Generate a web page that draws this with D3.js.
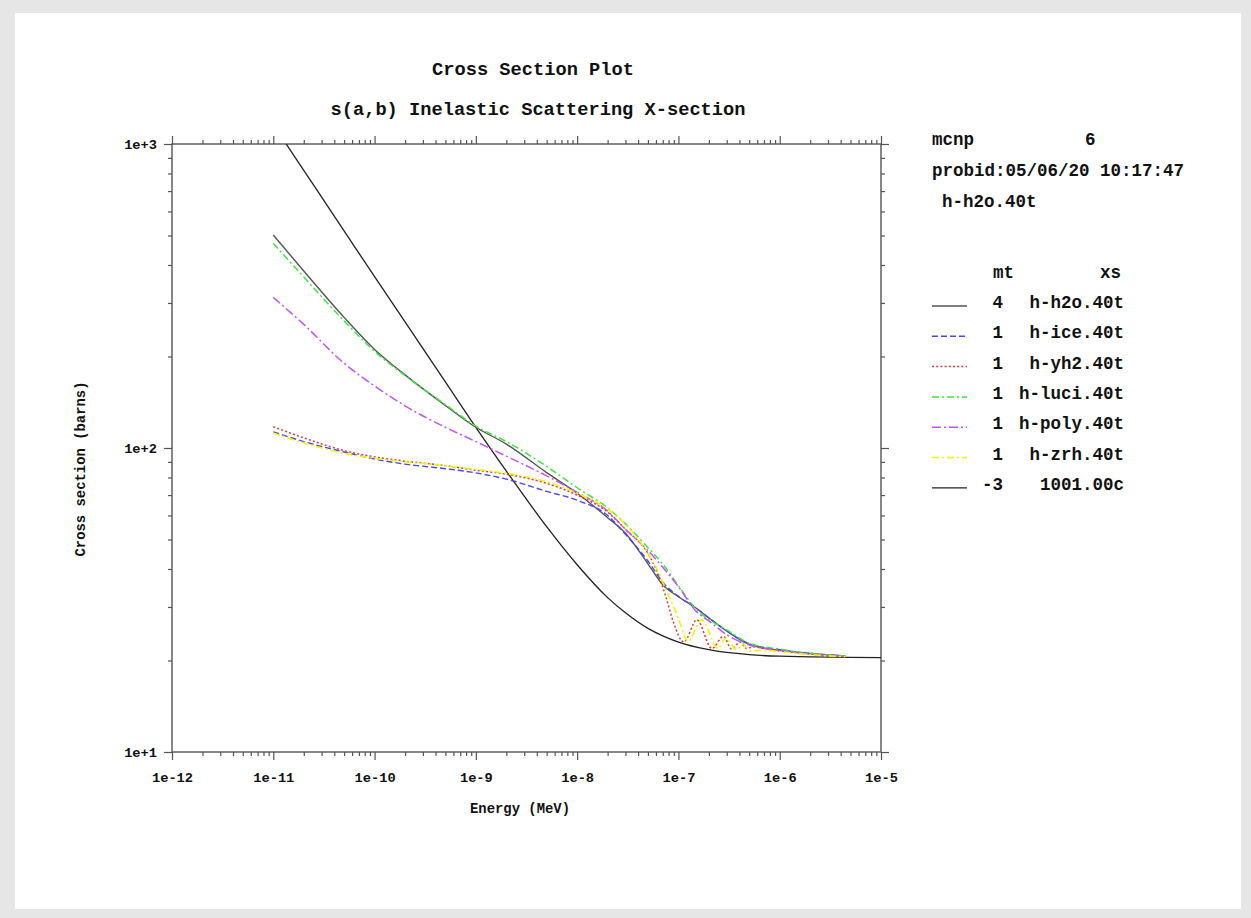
<!DOCTYPE html>
<html>
<head>
<meta charset="utf-8">
<script src="https://cdn.jsdelivr.net/npm/d3@7"></script>
<style>
  html, body { margin: 0; padding: 0; background: #e6e6e6; }
  svg { display: block; }
  text { font-family: "Liberation Mono", "DejaVu Sans Mono", monospace; font-weight: bold; fill: #111; }
</style>
</head>
<body>
<svg id="chart" width="1251" height="918"></svg>
<script>
// ---------------- data ----------------
const xTickLabels = ["1e-12","1e-11","1e-10","1e-9","1e-8","1e-7","1e-6","1e-5"];
const yTickLabels = ["1e+1","1e+2","1e+3"];

const legendMt = ["4","1","1","1","1","1","-3"];
const legendXs = ["h-h2o.40t","h-ice.40t","h-yh2.40t","h-luci.40t","h-poly.40t","h-zrh.40t","1001.00c"];

// common energy grid (MeV) for the smooth S(a,b) curves
const eGrid = [1e-11,2e-11,5e-11,1e-10,2e-10,5e-10,1e-9,2e-9,5e-9,1e-8,2e-8,3e-8,5e-8,7e-8,1e-7,1.5e-7,2e-7,3e-7,5e-7,1e-6,2e-6,4.46e-6];

const h2oValues  = [502,382,269,211,174,138,117,103,83,71,59,52.4,41.6,35.5,32.4,29.7,27.6,25.0,22.6,21.6,21.1,20.7];
const iceValues  = [113,105,97,92,88.5,85.5,82.8,79,72,67.3,60,52,42.5,36.2,32.5,29.7,27.6,25.0,22.7,21.7,21.1,20.7];
const luciValues = [471,365,262,208,173,139,118,105,87,74,63.5,56.3,47,41.5,35.2,29.5,27.3,25.2,22.8,21.8,21.1,20.7];
const polyValues = [313,255,190,160,137.6,117,105,94,81,71.5,62,54,46,40.5,35,29,27,24.3,22.5,21.6,21.0,20.6];

// yh2 and zrh have Bragg-like oscillations, so they carry their own energies
const yh2Energies = [1e-11,2e-11,5e-11,1e-10,2e-10,5e-10,1e-9,2e-9,5e-9,1e-8,2e-8,3e-8,5e-8,6e-8,7.6e-8,9e-8,1.13e-7,1.52e-7,2.14e-7,2.78e-7,3.35e-7,4.05e-7,4.7e-7,5.5e-7,7e-7,1e-6,2e-6,4.46e-6];
const yh2Values   = [117.5,108,98,93.5,90.5,87.5,84.5,82,76.5,70,61.5,54,45,40,32,26.5,23.0,27.2,21.9,24.0,21.8,23.0,21.9,22.2,21.9,21.5,21.0,20.6];

const zrhEnergies = [1e-11,2e-11,5e-11,1e-10,2e-10,5e-10,1e-9,2e-9,5e-9,1e-8,2e-8,3e-8,5e-8,6e-8,7.6e-8,9e-8,1e-7,1.25e-7,1.69e-7,2.47e-7,2.93e-7,3.76e-7,4.37e-7,5.08e-7,7e-7,1e-6,2e-6,4.46e-6];
const zrhValues   = [112,104,96,92.5,90,87.5,85,82.5,77.5,71,63,56,45,40.5,34,30,27.5,23.1,27.2,21.9,23.7,21.7,22.6,21.5,21.6,21.4,20.9,20.6];

// free-gas hydrogen (1001.00c) elastic
const h1Energies = [1e-11,2e-11,5e-11,1e-10,2e-10,5e-10,1e-9,2e-9,5e-9,1e-8,2e-8,3e-8,5e-8,7e-8,1e-7,2e-7,5e-7,1e-6,1e-5];
const h1Values   = [1158,819,518,366,260,165,117,84,55.1,41.3,32.2,28.7,25.5,24.1,23.0,21.7,20.9,20.66,20.43];

// ---------------- drawing ----------------
const svg = d3.select("#chart");

// page panel
svg.append("rect").attr("x",0).attr("y",0).attr("width",1251).attr("height",918).attr("fill","#e6e6e6");
svg.append("rect").attr("x",15).attr("y",13).attr("width",1226).attr("height",896).attr("fill","#ffffff");

const x = d3.scaleLog().domain([1e-12,1e-5]).range([172,881]);
const y = d3.scaleLog().domain([10,1000]).range([752,144]);

const axisColor = "#555";

// major & minor tick values
const xMajor = d3.range(-12,-4).map(p => Math.pow(10,p));
const xMinor = [];
for (let p=-12; p<-5; p++) for (let m=2; m<=9; m++) xMinor.push(m*Math.pow(10,p));
const yMajor = [10,100,1000];
const yMinor = [];
for (let p=1; p<3; p++) for (let m=2; m<=9; m++) yMinor.push(m*Math.pow(10,p));

function styleAxis(g){
  g.select(".domain").remove();
  g.selectAll(".tick line").attr("stroke",axisColor).attr("stroke-width",1.2);
}

// bottom
svg.append("g").attr("transform","translate(0,752)")
  .call(d3.axisBottom(x).tickValues(xMinor).tickSize(4).tickFormat(""))
  .call(styleAxis);
svg.append("g").attr("transform","translate(0,752)")
  .call(d3.axisBottom(x).tickValues(xMajor).tickSize(8).tickPadding(12)
        .tickFormat((d,i)=>xTickLabels[i]))
  .call(styleAxis)
  .call(g=>g.selectAll("text").attr("font-size","13.7px").attr("font-family","Liberation Mono, monospace")
        .attr("font-weight","bold").attr("fill","#111"));
// top
svg.append("g").attr("transform","translate(0,144)")
  .call(d3.axisTop(x).tickValues(xMinor).tickSize(4).tickFormat("")).call(styleAxis);
svg.append("g").attr("transform","translate(0,144)")
  .call(d3.axisTop(x).tickValues(xMajor).tickSize(8).tickFormat("")).call(styleAxis);
// left
svg.append("g").attr("transform","translate(172,0)")
  .call(d3.axisLeft(y).tickValues(yMinor).tickSize(4).tickFormat("")).call(styleAxis);
svg.append("g").attr("transform","translate(172,0)")
  .call(d3.axisLeft(y).tickValues(yMajor).tickSize(8).tickPadding(7)
        .tickFormat((d,i)=>yTickLabels[i]))
  .call(styleAxis)
  .call(g=>g.selectAll("text").attr("font-size","13.7px").attr("font-family","Liberation Mono, monospace")
        .attr("font-weight","bold").attr("fill","#111"));
// right
svg.append("g").attr("transform","translate(881,0)")
  .call(d3.axisRight(y).tickValues(yMinor).tickSize(4).tickFormat("")).call(styleAxis);
svg.append("g").attr("transform","translate(881,0)")
  .call(d3.axisRight(y).tickValues(yMajor).tickSize(8).tickFormat("")).call(styleAxis);

// frame
svg.append("rect").attr("x",172).attr("y",144).attr("width",709).attr("height",608)
  .attr("fill","none").attr("stroke",axisColor).attr("stroke-width",1.4);

// clip
svg.append("clipPath").attr("id","plotclip").append("rect")
  .attr("x",172).attr("y",144).attr("width",709).attr("height",608);

const line = d3.line().x(d=>x(d[0])).y(d=>y(d[1])).curve(d3.curveMonotoneX);

const series = [
  {name:"h-h2o.40t", E:eGrid, v:h2oValues, color:"#555555", dash:null, w:1.4},
  {name:"h-ice.40t", E:eGrid, v:iceValues, color:"#4545ff", dash:"6,3", w:1.4},
  {name:"h-yh2.40t", E:yh2Energies, v:yh2Values, color:"#d83a3a", dash:"2,2.2", w:1.5},
  {name:"h-luci.40t", E:eGrid, v:luciValues, color:"#3de83d", dash:"7,3,2,3", w:1.5},
  {name:"h-poly.40t", E:eGrid, v:polyValues, color:"#c652f5", dash:"9,3,2,3", w:1.5},
  {name:"h-zrh.40t", E:zrhEnergies, v:zrhValues, color:"#f4f400", dash:"7,3,2,3", w:1.6},
  {name:"1001.00c", E:h1Energies, v:h1Values, color:"#222222", dash:null, w:1.3}
];

const plot = svg.append("g").attr("clip-path","url(#plotclip)");
// draw order: black first lines under colored
const order = [6,0,1,2,3,4,5];
order.forEach(i=>{
  const s = series[i];
  plot.append("path")
    .datum(s.E.map((e,k)=>[e,s.v[k]]))
    .attr("d",line)
    .attr("fill","none")
    .attr("stroke",s.color)
    .attr("stroke-width",s.w)
    .attr("stroke-dasharray",s.dash);
});

// titles
svg.append("text").attr("x",533).attr("y",75).attr("text-anchor","middle")
  .attr("font-size","18.7px").text("Cross Section Plot");
svg.append("text").attr("x",538).attr("y",115).attr("text-anchor","middle")
  .attr("font-size","18.7px").text("s(a,b) Inelastic Scattering X-section");

// axis titles
svg.append("text").attr("x",520).attr("y",813).attr("text-anchor","middle")
  .attr("font-size","13.9px").text("Energy (MeV)");
svg.append("text").attr("transform","translate(85,469) rotate(-90)").attr("text-anchor","middle")
  .attr("font-size","13.9px").text("Cross section (barns)");

// info block
const fs = "17.5px";
svg.append("text").attr("x",932).attr("y",145).attr("font-size",fs).text("mcnp");
svg.append("text").attr("x",1085).attr("y",145).attr("font-size",fs).text("6");
svg.append("text").attr("x",932).attr("y",176).attr("font-size",fs).text("probid:05/06/20 10:17:47");
svg.append("text").attr("x",942).attr("y",207).attr("font-size",fs).text("h-h2o.40t");

// legend
svg.append("text").attr("x",1014).attr("y",278).attr("text-anchor","end").attr("font-size",fs).text("mt");
svg.append("text").attr("x",1121).attr("y",278).attr("text-anchor","end").attr("font-size",fs).text("xs");
series.forEach((s,i)=>{
  const cy = 302 + i*30.3;
  svg.append("line").attr("x1",932).attr("x2",967).attr("y1",cy+4).attr("y2",cy+4)
    .attr("stroke",s.color).attr("stroke-width",s.w).attr("stroke-dasharray",s.dash);
  svg.append("text").attr("x",1003).attr("y",cy+6).attr("text-anchor","end").attr("font-size",fs).text(legendMt[i]);
  svg.append("text").attr("x",1124).attr("y",cy+6).attr("text-anchor","end").attr("font-size",fs).text(legendXs[i]);
});
</script>
</body>
</html>
